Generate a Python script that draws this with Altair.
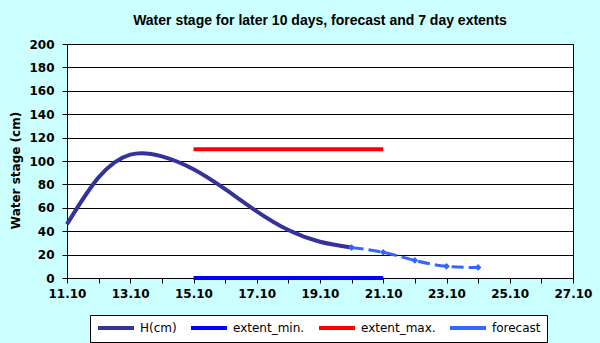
import altair as alt
import pandas as pd

# ---- data ----
h_days = [11, 12, 13, 14, 15, 16, 17, 18, 19, 20]
h_values = [46, 86, 105.5, 104, 93, 76, 57, 41, 31, 26]

extent_days = [15, 21]
extent_min_values = [0, 0]
extent_max_values = [110, 110]

forecast_days = [20, 21, 22, 23, 24]
forecast_values = [26, 22, 15, 10, 9]

series_names = ["H(cm)", "extent_min.", "extent_max.", "forecast"]
series_colors = ["#333399", "#0000ff", "#ff0000", "#3366ff"]

x_tick_values = list(range(11, 28))
x_tick_labels = ["11.10", "", "13.10", "", "15.10", "", "17.10", "", "19.10", "",
                 "21.10", "", "23.10", "", "25.10", "", "27.10"]
y_tick_values = [0, 20, 40, 60, 80, 100, 120, 140, 160, 180, 200]

# ---- table ----
frames = [
    pd.DataFrame({"day": h_days, "value": h_values, "series": series_names[0]}),
    pd.DataFrame({"day": extent_days, "value": extent_min_values, "series": series_names[1]}),
    pd.DataFrame({"day": extent_days, "value": extent_max_values, "series": series_names[2]}),
    pd.DataFrame({"day": forecast_days, "value": forecast_values, "series": series_names[3]}),
]
df = pd.concat(frames, ignore_index=True)

label_array = "[" + ",".join("'%s'" % s for s in x_tick_labels) + "]"
label_expr = label_array + "[datum.value - %d]" % x_tick_values[0]

x_enc = alt.X(
    "day:Q",
    scale=alt.Scale(domain=[x_tick_values[0], x_tick_values[-1]], nice=False, zero=False),
    axis=alt.Axis(
        values=x_tick_values, labelExpr=label_expr, title=None, grid=False,
        tickSize=5, tickColor="black", domainColor="black", labelPadding=5,
        labelFont="DejaVu Sans", labelFontWeight="bold", labelFontSize=12,
        labelColor="black", labelOverlap=False, labelFlush=False,
    ),
)
y_enc = alt.Y(
    "value:Q",
    scale=alt.Scale(domain=[0, 200], nice=False),
    axis=alt.Axis(
        values=y_tick_values, title="Water stage (cm)", grid=True, gridColor="black",
        gridOpacity=1, gridWidth=1, tickSize=5, tickColor="black", domainColor="black",
        labelPadding=8, labelFont="DejaVu Sans", labelFontWeight="bold", labelFontSize=12,
        labelColor="black", labelFlush=False, titleFont="DejaVu Sans", titleFontWeight="bold",
        titleFontSize=12, titleColor="black", titlePadding=6, titleY=126,
    ),
)
color_enc = alt.Color(
    "series:N",
    scale=alt.Scale(domain=series_names, range=series_colors),
    legend=alt.Legend(
        title=None, orient="none", legendX=23, legendY=271, direction="horizontal",
        symbolType="M-1,0H6.2", symbolSize=100, symbolStrokeWidth=4,
        labelFont="DejaVu Sans", labelFontSize=12, labelColor="black",
        fillColor="white", strokeColor="black", padding=6, columnPadding=6,
        labelOffset=30,
    ),
)

base = alt.Chart(df).encode(x=x_enc, y=y_enc, color=color_enc)

extents = base.transform_filter(
    alt.FieldOneOfPredicate(field="series", oneOf=series_names[1:3])
).mark_line(strokeWidth=4, strokeCap="butt")

h_line = base.transform_filter(
    alt.datum.series == series_names[0]
).mark_line(interpolate="natural", strokeWidth=4)

fc_line = base.transform_filter(
    alt.datum.series == series_names[3]
).mark_line(interpolate="natural", strokeWidth=3, strokeDash=[12, 5])

fc_pts = alt.Chart(df).transform_filter(
    alt.datum.series == series_names[3]
).mark_point(shape="diamond", filled=True, size=45, color=series_colors[3], opacity=1).encode(
    x=x_enc, y=y_enc
)

chart = alt.layer(extents, h_line, fc_line, fc_pts).properties(
    width=506,
    height=234,
    title=alt.TitleParams(
        "Water stage for later 10 days, forecast and 7 day extents",
        font="Liberation Sans", fontSize=14, fontWeight="bold", color="black",
        anchor="middle", frame="group", baseline="alphabetic", offset=1, dy=2,
    ),
    autosize=alt.AutoSizeParams(type="none"),
    padding={"left": 67, "top": 44, "right": 27, "bottom": 65},
    background="#ccffff",
).configure_view(
    stroke="black", strokeWidth=1, fill="white"
)

chart.save("out.html", embed_options={"renderer": "svg", "actions": False})
